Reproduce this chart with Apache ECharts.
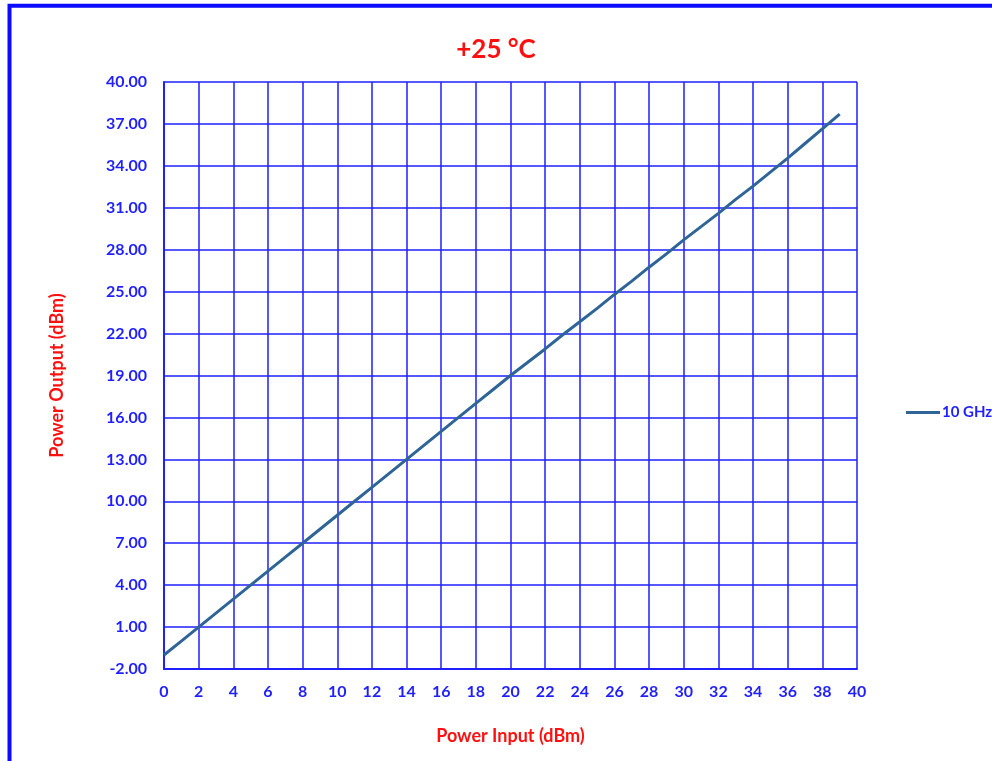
<!DOCTYPE html>
<html>
<head>
<meta charset="utf-8">
<script src="https://cdn.jsdelivr.net/npm/echarts@6/dist/echarts.min.js"></script>
<style>
  html, body { margin: 0; padding: 0; background: #fff; }
  #chart { width: 992px; height: 761px; }
</style>
</head>
<body>
<div id="chart"></div>
<script>
// Power input (dBm)
var powerIn = [0, 1, 2, 3, 4, 5, 6, 7, 8, 9, 10, 11, 12, 13, 14, 15, 16, 17, 18, 19,
  20, 21, 22, 23, 24, 25, 26, 27, 28, 29, 30, 31, 32, 33, 34, 35, 36, 37, 38, 39];
// Power output at 10 GHz (dBm)
var powerOut10G = [-1.0, 0.0, 1.0, 2.0, 3.0, 4.0, 5.0, 6.0, 7.0, 8.0, 9.0, 10.0, 11.0, 12.0, 13.0, 14.0, 15.0, 16.0, 17.0, 18.0,
  19.0, 19.95, 20.9, 21.9, 22.85, 23.8, 24.8, 25.75, 26.75, 27.7, 28.7, 29.65, 30.6, 31.6, 32.55, 33.55, 34.55, 35.6, 36.65, 37.7];

var seriesName = "10 GHz";
var blue = "#1f1fff";
var red = "#ff1010";
var lineColor = "#2f6596";
var labelFont = "Lato, 'Open Sans', sans-serif";

var chart = echarts.init(document.getElementById("chart"));
var option = {
  animation: false,
  backgroundColor: "#fff",
  title: {
    text: "+25 °C",
    left: "center",
    top: 32,
    textStyle: { color: red, fontSize: 26, fontWeight: "bold", fontFamily: labelFont }
  },
  legend: {
    left: 901,
    top: 400,
    itemWidth: 34,
    itemHeight: 3,
    itemGap: 4,
    icon: "rect",
    data: [seriesName],
    textStyle: { color: blue, fontSize: 15, fontWeight: "bold", fontFamily: labelFont, padding: [0, 0, 0, -3] }
  },
  grid: { left: 164, right: 135, top: 82, bottom: 92, containLabel: false },
  xAxis: {
    type: "value",
    min: 0,
    max: 40,
    interval: 2,
    name: "Power Input (dBm)",
    nameLocation: "middle",
    nameGap: 58,
    nameTextStyle: { color: red, fontSize: 18, fontWeight: "bold", fontFamily: labelFont },
    axisLine: { onZero: false, lineStyle: { color: blue, width: 2 } },
    axisTick: { show: false },
    axisLabel: { color: blue, fontSize: 16, fontWeight: "bold", fontFamily: labelFont, margin: 15 },
    splitLine: { show: true, lineStyle: { color: blue, width: 1.5 } }
  },
  yAxis: {
    type: "value",
    min: -2,
    max: 40,
    interval: 3,
    name: "Power Output (dBm)",
    nameLocation: "middle",
    nameGap: 98,
    nameTextStyle: { color: red, fontSize: 18, fontWeight: "bold", fontFamily: labelFont },
    axisLine: { show: true, onZero: false, lineStyle: { color: blue, width: 2 } },
    axisTick: { show: false },
    axisLabel: {
      color: blue, fontSize: 16, fontWeight: "bold", fontFamily: labelFont, margin: 17,
      formatter: function (v) { return v.toFixed(2); }
    },
    splitLine: { show: true, lineStyle: { color: blue, width: 1.5 } }
  },
  graphic: [
    {
      type: "rect",
      silent: true,
      shape: { x: 9.5, y: 5.7, width: 1100, height: 900 },
      style: { fill: null, stroke: "#0a0aff", lineWidth: 4 }
    }
  ],
  series: [
    {
      name: seriesName,
      type: "line",
      symbol: "none",
      data: powerIn.map(function (x, i) { return [x, powerOut10G[i]]; }),
      lineStyle: { color: lineColor, width: 3 },
      itemStyle: { color: lineColor }
    }
  ]
};
chart.setOption(option);
</script>
</body>
</html>
